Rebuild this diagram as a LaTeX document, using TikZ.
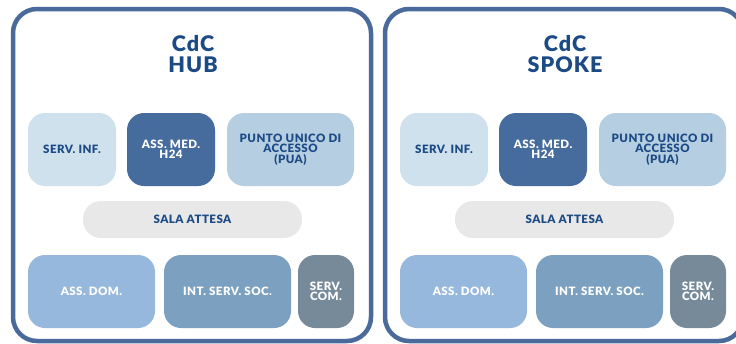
\documentclass[tikz,border=0pt]{standalone}
\usepackage{fontspec}
\setmainfont{Lato}[BoldFont={Lato Black}]
\definecolor{frameblue}{HTML}{4A6A9C}
\definecolor{txtblue}{HTML}{1B4A85}
\definecolor{cInf}{HTML}{D0E1EE}
\definecolor{cMed}{HTML}{466C9E}
\definecolor{cPua}{HTML}{B6CEE1}
\definecolor{cSala}{HTML}{E8E8E8}
\definecolor{cDom}{HTML}{96B8DC}
\definecolor{cSoc}{HTML}{7CA0BF}
\definecolor{cCom}{HTML}{778A99}
\begin{document}
\begin{tikzpicture}[x=1pt,y=-1pt,
  panel/.style={draw=frameblue,line width=4.5pt,fill=white,rounded corners=24pt},
  unit/.style={rounded corners=17pt,text centered,font=\bfseries\fontsize{11.5}{10.5}\selectfont\addfontfeature{LetterSpace=4},align=center},
  darktxt/.style={text=txtblue},
  lighttxt/.style={text=white},
  title/.style={font=\bfseries\fontsize{21.5}{20.5}\selectfont\addfontfeature{LetterSpace=5},text=txtblue,align=center}]
\useasboundingbox[fill=white] (0,0) rectangle (736,343);
\foreach \o/\p/\t in {0/H/HUB,372/S/SPOKE}{
  \begin{scope}[xshift=\o]
  \draw[panel] (13,9) rectangle (371,341);
  \node[title] (\p title) at (193,54) {CdC\\\t};
  \path[unit,fill=cInf] (28,113) rectangle (116,186);
  \node[unit,darktxt] (\p inf) at (72,149.5) {SERV. INF.};
  \path[unit,fill=cMed] (127,113) rectangle (215,186);
  \node[unit,lighttxt] (\p med) at (171,149.5) {ASS. MED.\\H24};
  \path[unit,fill=cPua] (227,113) rectangle (354,186);
  \node[unit,darktxt] (\p pua) at (290.5,149.5) {PUNTO UNICO DI\\ACCESSO\\(PUA)};
  \path[fill=cSala,rounded corners=18pt] (83,201) rectangle (302,238);
  \node[unit,darktxt] (\p sala) at (192.5,219.5) {SALA ATTESA};
  \path[unit,fill=cDom] (28,255) rectangle (155,328);
  \node[unit,lighttxt] (\p dom) at (91.5,291.5) {ASS. DOM.};
  \path[unit,fill=cSoc] (164,255) rectangle (291,328);
  \node[unit,lighttxt] (\p soc) at (227.5,291.5) {INT. SERV. SOC.};
  \path[unit,fill=cCom] (298,255) rectangle (354,328);
  \node[unit,lighttxt] (\p com) at (326,291.5) {SERV.\\COM.};
  \end{scope}
}
\end{tikzpicture}
\end{document}
